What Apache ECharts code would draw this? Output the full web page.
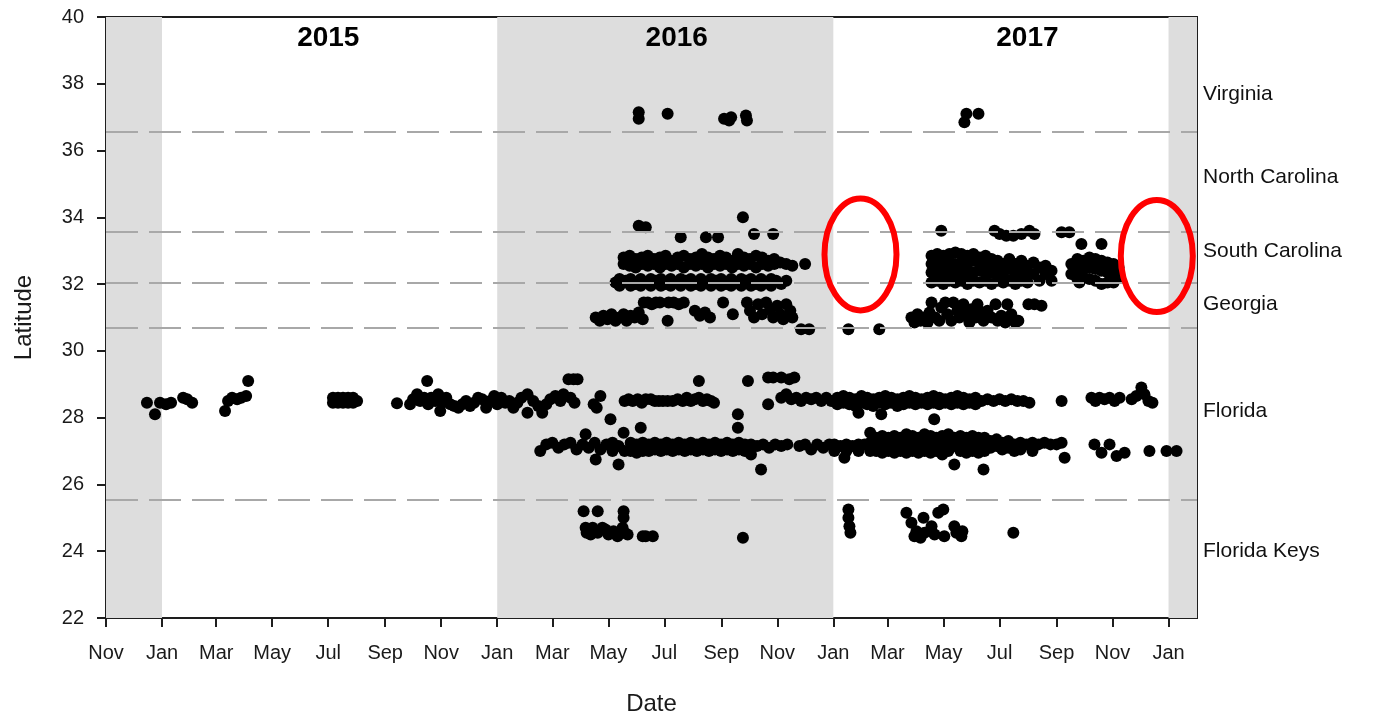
<!DOCTYPE html>
<html>
<head>
<meta charset="utf-8">
<title>Latitude by date</title>
<script src="https://cdn.jsdelivr.net/npm/echarts@6/dist/echarts.min.js"></script>
<style>
html, body { margin: 0; padding: 0; background: #fff; }
#chart { width: 1378px; height: 717px; }
</style>
</head>
<body>
<div id="chart"></div>
<script>
// ---- data (dates as decimal years, latitude in degrees) ----
var monthNames = ['Jan','Feb','Mar','Apr','May','Jun','Jul','Aug','Sep','Oct','Nov','Dec'];
var tickDates = ['2014-11-01','2015-01-01','2015-03-01','2015-05-01','2015-07-01','2015-09-01','2015-11-01',
  '2016-01-01','2016-03-01','2016-05-01','2016-07-01','2016-09-01','2016-11-01',
  '2017-01-01','2017-03-01','2017-05-01','2017-07-01','2017-09-01','2017-11-01','2018-01-01'];
var axisStart = '2014-11-01', axisEnd = '2018-02-01';
var shadedYears = [['2014-11-01','2015-01-01'],['2016-01-01','2017-01-01'],['2018-01-01','2018-02-01']];
var yearLabels = ['2015','2016','2017'];
var yearLabelPos = [2015.496, 2016.534, 2017.579];
var borderLats = [36.55, 33.57, 32.05, 30.68, 25.54];
var stateNames = ['Virginia','North Carolina','South Carolina','Georgia','Florida','Florida Keys'];
var stateLats = [37.7, 35.2, 33.0, 31.4, 28.2, 24.0];
var circledGaps = [[2017.081, 32.89], [2017.965, 32.84]];

var virginia = [[2016.421,37.15],[2016.421,36.95],[2016.507,37.1],[2016.675,36.95],[2016.690,36.9],[2016.696,37.0],
  [2016.740,37.05],[2016.743,36.9],[2017.391,36.85],[2017.397,37.1],[2017.433,37.1]];

var carolina2016 = [[2016.731,34.0],[2016.421,33.75],[2016.442,33.7],[2016.546,33.4],[2016.621,33.4],[2016.657,33.4],
  [2016.764,33.5],[2016.821,33.5],
  [2016.376,32.8],[2016.376,32.6],[2016.394,32.85],[2016.394,32.55],[2016.412,32.75],[2016.412,32.5],[2016.430,32.8],[2016.430,32.6],
  [2016.448,32.85],[2016.448,32.55],[2016.466,32.75],[2016.466,32.6],[2016.484,32.8],[2016.484,32.5],[2016.501,32.85],[2016.501,32.6],
  [2016.519,32.7],[2016.519,32.55],[2016.537,32.8],[2016.537,32.6],[2016.555,32.85],[2016.555,32.5],[2016.573,32.75],[2016.573,32.6],
  [2016.591,32.8],[2016.591,32.55],[2016.609,32.9],[2016.609,32.6],[2016.627,32.8],[2016.627,32.5],[2016.645,32.75],[2016.645,32.6],
  [2016.663,32.85],[2016.663,32.55],[2016.681,32.8],[2016.681,32.6],[2016.699,32.7],[2016.699,32.5],[2016.716,32.9],[2016.716,32.6],
  [2016.734,32.8],[2016.734,32.55],[2016.752,32.75],[2016.752,32.6],[2016.770,32.85],[2016.770,32.5],[2016.788,32.8],[2016.788,32.6],
  [2016.806,32.7],[2016.806,32.55],[2016.824,32.75],[2016.824,32.6],[2016.842,32.65],[2016.860,32.6],[2016.878,32.55],[2016.916,32.6],
  [2016.352,32.05],[2016.364,32.15],[2016.364,31.95],[2016.382,32.1],[2016.397,32.15],[2016.397,31.95],[2016.412,32.0],
  [2016.427,32.15],[2016.427,31.95],[2016.442,32.05],[2016.457,32.15],[2016.457,31.95],[2016.472,32.1],[2016.487,32.15],
  [2016.487,31.95],[2016.501,32.0],[2016.516,32.15],[2016.516,31.95],[2016.531,32.05],[2016.546,32.15],[2016.546,31.95],
  [2016.561,32.1],[2016.576,32.15],[2016.576,31.95],[2016.591,32.0],[2016.606,32.15],[2016.606,31.95],[2016.621,32.05],
  [2016.636,32.15],[2016.636,31.95],[2016.651,32.1],[2016.666,32.15],[2016.666,31.95],[2016.681,32.0],[2016.696,32.15],
  [2016.696,31.95],[2016.711,32.05],[2016.726,32.15],[2016.726,31.95],[2016.740,32.1],[2016.755,32.15],[2016.755,31.95],
  [2016.770,32.0],[2016.785,32.15],[2016.785,31.95],[2016.800,32.05],[2016.815,32.15],[2016.815,31.95],[2016.830,32.1],
  [2016.845,32.0],[2016.860,32.1]];

var carolina2017 = [[2017.322,33.6],[2017.481,33.6],[2017.496,33.5],[2017.516,33.45],[2017.537,33.45],[2017.561,33.5],
  [2017.585,33.6],[2017.600,33.5],[2017.681,33.55],[2017.704,33.55],[2017.740,33.2],[2017.800,33.2],
  [2017.293,32.85],[2017.293,32.6],[2017.293,32.35],[2017.293,32.05],[2017.310,32.9],[2017.310,32.65],[2017.310,32.4],[2017.310,32.1],
  [2017.328,32.85],[2017.328,32.6],[2017.328,32.3],[2017.328,32.0],[2017.346,32.9],[2017.346,32.7],[2017.346,32.4],[2017.346,32.1],
  [2017.364,32.95],[2017.364,32.6],[2017.364,32.35],[2017.364,32.05],[2017.382,32.9],[2017.382,32.65],[2017.382,32.4],[2017.382,32.1],
  [2017.400,32.85],[2017.400,32.6],[2017.400,32.3],[2017.400,32.0],[2017.418,32.9],[2017.418,32.7],[2017.418,32.35],[2017.418,32.1],
  [2017.436,32.8],[2017.436,32.6],[2017.436,32.4],[2017.436,32.05],[2017.454,32.85],[2017.454,32.55],[2017.454,32.3],[2017.454,32.1],
  [2017.472,32.75],[2017.472,32.6],[2017.472,32.35],[2017.472,32.0],
  [2017.490,32.7],[2017.490,32.4],[2017.490,32.1],[2017.507,32.6],[2017.507,32.35],[2017.507,32.05],[2017.525,32.75],[2017.525,32.45],
  [2017.525,32.1],[2017.543,32.6],[2017.543,32.3],[2017.543,32.0],[2017.561,32.7],[2017.561,32.4],[2017.561,32.1],[2017.579,32.55],
  [2017.579,32.35],[2017.579,32.05],[2017.597,32.65],[2017.597,32.3],[2017.615,32.5],[2017.615,32.1],[2017.633,32.55],[2017.633,32.3],
  [2017.651,32.4],[2017.651,32.1],
  [2017.710,32.6],[2017.710,32.3],[2017.728,32.75],[2017.728,32.45],[2017.728,32.15],[2017.734,32.05],[2017.746,32.7],[2017.746,32.45],
  [2017.746,32.2],[2017.764,32.8],[2017.764,32.5],[2017.764,32.15],[2017.782,32.75],[2017.782,32.45],[2017.782,32.1],[2017.800,32.7],
  [2017.800,32.4],[2017.800,32.0],[2017.818,32.65],[2017.818,32.35],[2017.818,32.05],[2017.836,32.6],[2017.836,32.3],[2017.836,32.05],
  [2017.851,32.5],[2017.851,32.2]];

var georgia = [[2016.293,31.0],[2016.305,30.9],[2016.316,31.05],[2016.328,30.95],[2016.340,31.1],[2016.352,30.9],[2016.364,31.0],
  [2016.376,31.1],[2016.385,30.9],[2016.397,31.05],[2016.409,31.0],[2016.421,31.15],[2016.433,30.95],[2016.436,31.45],[2016.448,31.45],
  [2016.460,31.4],[2016.472,31.45],[2016.484,31.45],[2016.507,30.9],[2016.510,31.45],[2016.525,31.45],[2016.540,31.4],[2016.555,31.45],
  [2016.588,31.2],[2016.603,31.05],[2016.618,31.15],[2016.633,31.0],[2016.672,31.45],[2016.701,31.1],[2016.743,31.45],[2016.752,31.2],
  [2016.764,31.0],[2016.776,31.4],[2016.788,31.1],[2016.800,31.45],[2016.812,31.25],[2016.821,31.0],[2016.833,31.35],[2016.842,31.1],
  [2016.851,30.95],[2016.860,31.4],[2016.872,31.2],[2016.878,31.0],[2016.904,30.65],[2016.928,30.65],
  [2017.045,30.65],[2017.137,30.65],
  [2017.233,31.0],[2017.242,30.85],[2017.251,31.1],[2017.260,30.9],[2017.269,31.0],[2017.281,30.85],[2017.287,31.15],[2017.293,31.45],
  [2017.304,31.0],[2017.316,30.9],[2017.322,31.3],[2017.334,31.45],[2017.340,31.1],[2017.352,30.9],[2017.358,31.45],[2017.370,31.2],
  [2017.376,31.0],[2017.388,31.4],[2017.394,31.1],[2017.406,30.85],[2017.412,31.25],[2017.424,31.0],[2017.430,31.4],[2017.442,31.15],
  [2017.448,30.9],[2017.460,31.2],[2017.472,31.0],[2017.484,31.4],[2017.490,30.9],[2017.501,31.05],[2017.513,30.85],[2017.519,31.4],
  [2017.531,31.1],[2017.543,30.85],[2017.552,30.9],[2017.582,31.4],[2017.600,31.4],[2017.621,31.35]];

var floridaNorth = [[2014.955,28.45],[2014.979,28.1],[2014.994,28.45],[2015.012,28.4],[2015.027,28.45],[2015.063,28.6],[2015.075,28.55],
  [2015.090,28.45],[2015.188,28.2],[2015.197,28.5],[2015.209,28.6],[2015.224,28.55],[2015.236,28.6],[2015.251,28.65],[2015.257,29.1],
  [2015.510,28.6],[2015.510,28.45],[2015.525,28.6],[2015.525,28.45],[2015.540,28.6],[2015.540,28.45],[2015.555,28.6],[2015.555,28.45],
  [2015.570,28.6],[2015.570,28.45],[2015.582,28.5],
  [2015.701,28.43],[2015.740,28.4],[2015.749,28.55],[2015.761,28.7],[2015.770,28.5],[2015.782,28.6],[2015.791,29.1],[2015.794,28.4],
  [2015.803,28.6],[2015.815,28.5],[2015.824,28.7],[2015.830,28.2],[2015.836,28.45],[2015.848,28.6],[2015.860,28.4],[2015.872,28.35],
  [2015.884,28.3],[2015.896,28.4],[2015.907,28.5],[2015.919,28.35],[2015.931,28.45],[2015.943,28.6],[2015.955,28.55],[2015.967,28.3],
  [2015.979,28.5],[2015.991,28.65],
  [2016.000,28.4],[2016.012,28.6],[2016.024,28.45],[2016.036,28.5],[2016.048,28.3],[2016.060,28.45],[2016.072,28.6],[2016.090,28.7],
  [2016.090,28.15],[2016.107,28.5],[2016.122,28.35],[2016.134,28.15],[2016.146,28.4],[2016.158,28.55],[2016.173,28.65],[2016.188,28.5],
  [2016.197,28.7],[2016.212,29.15],[2016.227,29.15],[2016.239,29.15],[2016.218,28.6],[2016.230,28.45],[2016.287,28.4],[2016.296,28.3],
  [2016.307,28.65],[2016.337,27.95],
  [2016.379,28.5],[2016.391,28.55],[2016.403,28.5],[2016.418,28.55],[2016.430,28.45],[2016.442,28.55],[2016.457,28.55],[2016.469,28.5],
  [2016.481,28.5],[2016.493,28.5],[2016.507,28.5],[2016.522,28.5],[2016.537,28.55],[2016.552,28.5],[2016.564,28.6],[2016.576,28.5],
  [2016.588,28.55],[2016.600,28.6],[2016.600,29.1],[2016.612,28.5],[2016.624,28.55],[2016.636,28.5],[2016.645,28.45],
  [2016.716,28.1],[2016.716,27.7],[2016.746,29.1],[2016.806,29.2],[2016.821,29.2],[2016.845,29.2],[2016.869,29.15],[2016.884,29.2],
  [2016.806,28.4],[2016.845,28.6],[2016.860,28.7],[2016.875,28.55],[2016.890,28.6],[2016.904,28.5],[2016.919,28.6],[2016.934,28.55],
  [2016.949,28.6],[2016.964,28.5],[2016.979,28.6],[2016.994,28.5],
  [2017.012,28.6],[2017.012,28.4],[2017.030,28.65],[2017.030,28.45],[2017.048,28.6],[2017.048,28.4],[2017.066,28.55],[2017.066,28.35],
  [2017.075,28.15],[2017.084,28.65],[2017.084,28.45],[2017.101,28.6],[2017.101,28.4],[2017.119,28.55],[2017.119,28.35],[2017.137,28.6],
  [2017.137,28.45],[2017.143,28.1],[2017.155,28.65],[2017.155,28.4],[2017.173,28.6],[2017.173,28.45],[2017.191,28.55],[2017.191,28.35],
  [2017.209,28.6],[2017.209,28.4],[2017.227,28.65],[2017.227,28.45],[2017.245,28.6],[2017.245,28.4],[2017.263,28.55],[2017.263,28.45],
  [2017.281,28.6],[2017.281,28.4],[2017.299,28.65],[2017.299,28.45],[2017.301,27.95],[2017.316,28.6],[2017.316,28.4],[2017.334,28.55],
  [2017.334,28.45],[2017.352,28.6],[2017.352,28.4],[2017.370,28.65],[2017.370,28.45],[2017.388,28.6],[2017.388,28.4],[2017.406,28.55],
  [2017.406,28.45],[2017.424,28.6],[2017.424,28.4],[2017.442,28.5],[2017.460,28.55],[2017.478,28.5],[2017.496,28.55],[2017.513,28.5],
  [2017.531,28.55],[2017.549,28.5],[2017.567,28.5],[2017.585,28.45],[2017.681,28.5],
  [2017.770,28.6],[2017.782,28.5],[2017.794,28.6],[2017.809,28.55],[2017.824,28.6],[2017.839,28.5],[2017.854,28.6],[2017.890,28.55],
  [2017.904,28.65],[2017.919,28.9],[2017.928,28.7],[2017.940,28.5],[2017.952,28.45]];

var floridaSouth = [[2016.128,27.0],[2016.146,27.2],[2016.164,27.25],[2016.182,27.1],[2016.200,27.2],[2016.218,27.25],[2016.236,27.05],
  [2016.254,27.2],[2016.263,27.5],[2016.272,27.1],[2016.290,27.25],[2016.293,26.75],[2016.307,27.05],[2016.325,27.2],[2016.343,27.0],
  [2016.343,27.25],[2016.361,26.6],[2016.361,27.15],[2016.376,27.55],[2016.379,27.0],[2016.397,27.25],[2016.397,27.0],[2016.415,27.2],
  [2016.415,26.95],[2016.427,27.7],[2016.433,27.25],[2016.433,27.0],[2016.451,27.2],[2016.451,27.0],[2016.469,27.25],[2016.469,27.05],
  [2016.487,27.2],[2016.487,27.0],[2016.504,27.25],[2016.504,27.05],[2016.522,27.2],[2016.522,27.0],[2016.540,27.25],[2016.540,27.05],
  [2016.558,27.2],[2016.558,27.0],[2016.576,27.25],[2016.576,27.05],[2016.594,27.2],[2016.594,27.0],[2016.612,27.25],[2016.612,27.05],
  [2016.630,27.2],[2016.630,27.0],[2016.648,27.25],[2016.648,27.05],[2016.666,27.2],[2016.666,27.0],[2016.684,27.25],[2016.684,27.05],
  [2016.701,27.2],[2016.701,27.0],[2016.719,27.25],[2016.719,27.05],[2016.737,27.2],[2016.737,27.0],[2016.755,27.2],[2016.755,26.9],
  [2016.773,27.15],[2016.785,26.45],[2016.791,27.2],[2016.809,27.1],[2016.827,27.2],[2016.845,27.15],[2016.863,27.2],
  [2016.899,27.15],[2016.916,27.2],[2016.934,27.05],[2016.952,27.2],[2016.970,27.1],[2016.988,27.2],
  [2017.003,27.2],[2017.003,27.0],[2017.021,27.15],[2017.033,26.8],[2017.039,27.2],[2017.039,27.0],[2017.057,27.15],[2017.075,27.2],
  [2017.075,27.0],[2017.093,27.2],[2017.110,27.25],[2017.110,27.0],[2017.110,27.55],
  [2017.128,27.4],[2017.128,27.2],[2017.128,27.0],[2017.146,27.45],[2017.146,27.15],[2017.146,26.95],[2017.164,27.4],[2017.164,27.2],
  [2017.164,27.0],[2017.182,27.45],[2017.182,27.2],[2017.182,26.95],[2017.200,27.4],[2017.200,27.15],[2017.200,27.0],[2017.218,27.5],
  [2017.218,27.2],[2017.218,26.95],[2017.236,27.45],[2017.236,27.2],[2017.236,27.0],[2017.254,27.4],[2017.254,27.15],[2017.254,26.95],
  [2017.272,27.5],[2017.272,27.2],[2017.272,27.0],[2017.290,27.45],[2017.290,27.2],[2017.290,26.95],[2017.307,27.4],[2017.307,27.15],
  [2017.307,27.0],[2017.325,27.45],[2017.325,27.2],[2017.325,26.9],[2017.343,27.5],[2017.343,27.2],[2017.343,27.0],[2017.361,27.4],
  [2017.361,27.15],[2017.361,26.6],[2017.379,27.45],[2017.379,27.2],[2017.379,27.0],[2017.397,27.4],[2017.397,27.15],[2017.397,26.95],
  [2017.415,27.45],[2017.415,27.2],[2017.415,27.0],[2017.433,27.4],[2017.433,27.15],[2017.433,26.95],[2017.448,26.45],[2017.451,27.4],
  [2017.451,27.2],[2017.451,27.0],[2017.469,27.3],[2017.469,27.1],[2017.487,27.35],[2017.487,27.15],[2017.504,27.25],[2017.504,27.05],
  [2017.522,27.3],[2017.522,27.1],[2017.540,27.2],[2017.540,27.0],[2017.558,27.25],[2017.558,27.05],[2017.576,27.2],[2017.594,27.25],
  [2017.594,27.0],[2017.612,27.2],[2017.630,27.25],[2017.648,27.2],[2017.666,27.2],[2017.681,27.25],[2017.690,26.8],
  [2017.779,27.2],[2017.800,26.95],[2017.824,27.2],[2017.845,26.85],[2017.869,26.95],[2017.943,27.0],[2017.994,27.0],[2018.024,27.0]];

var floridaKeys = [[2016.257,25.2],[2016.299,25.2],[2016.376,25.2],[2016.376,25.0],[2016.263,24.7],[2016.266,24.55],[2016.278,24.5],
  [2016.284,24.7],[2016.299,24.55],[2016.313,24.7],[2016.322,24.65],[2016.331,24.5],[2016.346,24.6],[2016.358,24.45],[2016.373,24.7],
  [2016.379,24.55],[2016.388,24.5],[2016.433,24.45],[2016.442,24.45],[2016.463,24.45],[2016.731,24.4],
  [2017.045,25.25],[2017.045,25.0],[2017.048,24.75],[2017.051,24.55],[2017.218,25.15],[2017.233,24.85],[2017.242,24.45],[2017.248,24.6],
  [2017.260,24.4],[2017.269,25.0],[2017.272,24.55],[2017.293,24.75],[2017.302,24.5],[2017.313,25.15],[2017.328,25.25],[2017.331,24.45],
  [2017.361,24.75],[2017.367,24.55],[2017.382,24.45],[2017.385,24.6],[2017.537,24.55]];

// ---- helpers ----
function decToMs(t) {
  var y = Math.floor(t);
  var a = Date.UTC(y, 0, 1), b = Date.UTC(y + 1, 0, 1);
  return a + (t - y) * (b - a);
}
function isoToMs(s) {
  var p = s.split('-');
  return Date.UTC(+p[0], +p[1] - 1, +p[2]);
}
function toPoints(arr) {
  return arr.map(function (d) { return [decToMs(d[0]), d[1]]; });
}

var allPoints = [].concat(toPoints(virginia), toPoints(carolina2016), toPoints(carolina2017),
  toPoints(georgia), toPoints(floridaNorth), toPoints(floridaSouth), toPoints(floridaKeys));
var tickValues = tickDates.map(isoToMs);
var xMin = isoToMs(axisStart), xMax = isoToMs(axisEnd);
var font = 'Liberation Sans, Arial, sans-serif';

var chart = echarts.init(document.getElementById('chart'));
chart.setOption({
  animation: false,
  grid: { left: 106, right: 181, top: 17, bottom: 99, containLabel: false, outerBoundsMode: 'none',
    show: true, borderColor: '#1e1e1e', borderWidth: 2, backgroundColor: 'transparent' },
  xAxis: {
    type: 'value', min: xMin, max: xMax,
    name: 'Date', nameLocation: 'middle', nameGap: 74,
    nameTextStyle: { fontFamily: font, fontSize: 24, color: '#1a1a1a' },
    axisLine: { lineStyle: { color: '#1e1e1e', width: 2 } },
    axisTick: { show: true, inside: false, length: 9, customValues: tickValues,
      lineStyle: { color: '#1e1e1e', width: 2 } },
    axisLabel: { customValues: tickValues, margin: 25, fontFamily: font, fontSize: 20, color: '#1a1a1a',
      formatter: function (v) { return monthNames[new Date(v).getUTCMonth()]; } },
    splitLine: { show: false }
  },
  yAxis: {
    type: 'value', min: 22, max: 40, interval: 2,
    name: 'Latitude', nameLocation: 'middle', nameGap: 70, nameRotate: 90,
    nameTextStyle: { fontFamily: font, fontSize: 24, color: '#1a1a1a' },
    axisLine: { show: true, lineStyle: { color: '#1e1e1e', width: 2 } },
    axisTick: { show: true, inside: false, length: 9, lineStyle: { color: '#1e1e1e', width: 2 } },
    axisLabel: { margin: 22, fontFamily: font, fontSize: 20, color: '#1a1a1a' },
    splitLine: { show: false }
  },
  series: [
    {
      type: 'line', data: [], z: 1, silent: true,
      markArea: {
        silent: true,
        itemStyle: { color: '#dddddd' },
        data: shadedYears.map(function (r) { return [{ xAxis: isoToMs(r[0]) }, { xAxis: isoToMs(r[1]) }]; })
      },
      markLine: {
        silent: true, symbol: ['none', 'none'], label: { show: false },
        lineStyle: { type: [32, 11], color: '#a8a8a8', width: 2 },
        data: borderLats.map(function (v) { return { yAxis: v }; })
      }
    },
    {
      name: 'Locations', type: 'scatter', z: 3,
      symbol: 'circle', symbolSize: 12,
      itemStyle: { color: '#000', opacity: 1 },
      data: allPoints
    },
    {
      type: 'scatter', z: 4, symbolSize: 0, silent: true,
      itemStyle: { opacity: 1 },
      data: yearLabels.map(function (y, i) { return { value: [decToMs(yearLabelPos[i]), 39.37], name: y }; }),
      label: { show: true, position: 'inside', formatter: '{b}', fontFamily: font,
        fontSize: 28, fontWeight: 'bold', color: '#000', opacity: 1 }
    },
    {
      type: 'scatter', z: 4, symbolSize: 0, silent: true, clip: false,
      itemStyle: { opacity: 1 },
      data: stateNames.map(function (n, i) { return { value: [xMax, stateLats[i]], name: n }; }),
      label: { show: true, position: 'right', distance: 6, formatter: '{b}', fontFamily: font,
        fontSize: 21, color: '#111', opacity: 1 }
    }
  ]
});

// red annotation rings placed through the axes
var rings = circledGaps.map(function (c) {
  var p = chart.convertToPixel({ gridIndex: 0 }, [decToMs(c[0]), c[1]]);
  return { type: 'ellipse', z: 10, silent: true,
    shape: { cx: p[0], cy: p[1], rx: 36, ry: 56 },
    style: { fill: 'none', stroke: '#ff0000', lineWidth: 6 } };
});
chart.setOption({ graphic: rings });
</script>
</body>
</html>
